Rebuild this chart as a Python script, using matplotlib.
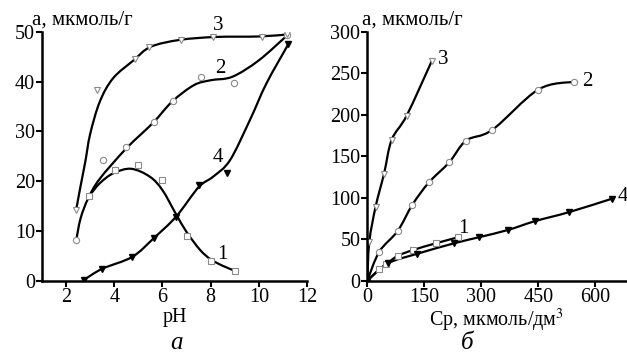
import matplotlib
matplotlib.use("Agg")
import matplotlib.pyplot as plt
import numpy as np
from matplotlib.path import Path
from matplotlib.patches import PathPatch

plt.rcParams["font.family"] = ["Liberation Serif", "DejaVu Serif"]
plt.rcParams["mathtext.fontset"] = "stix"

# --- panel а: a vs pH ---
# markers (measured points)
ph1 = [2.97, 4.01, 5.0, 6.0, 7.0, 8.0, 9.0]
a1 = [17.1, 22.2, 23.2, 20.2, 9.0, 4.0, 2.0]
ph2 = [2.42, 3.55, 4.5, 5.65, 6.45, 7.6, 8.96, 11.17]
a2 = [8.1, 24.2, 26.8, 32.0, 36.1, 41.0, 39.8, 49.3]
ph3 = [2.42, 3.28, 4.85, 5.43, 6.76, 8.11, 10.15, 11.17]
a3 = [14.3, 38.4, 44.5, 47.0, 48.3, 49.0, 49.0, 49.5]
ph4 = [2.75, 3.51, 4.75, 5.65, 6.57, 7.53, 8.69, 11.22]
a4 = [0.2, 2.4, 4.7, 8.6, 12.9, 19.3, 21.6, 47.5]

# fitted curves
ph1_fit = [2.97, 3.4, 3.96, 4.7, 5.48, 6.0, 6.55, 7.0, 7.56, 8.0, 8.5, 9.0]
a1_fit = [17.1, 19.6, 21.6, 22.5, 20.9, 18.2, 13.5, 9.8, 6.2, 4.3, 3.0, 2.0]
ph2_fit = [2.42, 2.6, 2.92, 3.4, 4.5, 5.6, 6.4, 7.3, 8.0, 8.9, 10.0, 11.17]
a2_fit = [8.1, 12.5, 16.6, 20.5, 26.6, 31.7, 36.0, 39.3, 40.3, 41.0, 44.3, 49.3]
ph3_fit = [2.42, 2.6, 2.8, 3.0, 3.4, 3.95, 4.8, 5.5, 6.7, 8.2, 10.0, 11.17]
a3_fit = [14.3, 19.0, 24.0, 29.5, 36.0, 40.7, 44.3, 47.0, 48.4, 49.0, 49.1, 49.5]
ph4_fit = [2.75, 3.5, 4.75, 5.65, 6.57, 7.5, 8.1, 8.8, 9.63, 10.32, 11.22]
a4_fit = [0.2, 2.4, 4.8, 8.6, 12.9, 18.8, 20.9, 24.2, 32.3, 39.7, 47.5]

# --- panel б: isotherms ---
c1 = [0, 31.6, 49, 80, 121, 181, 239.6]
q1 = [0, 13.8, 19.8, 29.9, 37.1, 45.2, 52.5]
c2 = [0, 31.6, 80, 118.5, 162, 216, 260, 329, 450, 544]
q2 = [0, 35, 60, 91.5, 118.5, 143, 169, 182, 230.6, 240]
c3 = [0, 5.3, 22, 44, 64.2, 103.7, 169.5]
q3 = [0, 47, 89.5, 129, 170, 199.2, 264.8]
c4 = [0, 55, 130, 229, 294.7, 371, 441, 531, 643]
q4 = [0, 21, 32.3, 45.2, 52.5, 61.3, 71.8, 82.7, 98.8]


def smooth_line(ax, xs, ys):
    # Catmull-Rom through the points, drawn as cubic bezier in display space
    pts = ax.transData.transform(np.column_stack([xs, ys]))
    verts = [pts[0]]
    codes = [Path.MOVETO]
    n = len(pts)
    for i in range(n - 1):
        p0 = pts[i - 1] if i > 0 else pts[i]
        p1, p2 = pts[i], pts[i + 1]
        p3 = pts[i + 2] if i + 2 < n else pts[i + 1]
        verts += [p1 + (p2 - p0) / 6, p2 - (p3 - p1) / 6, p2]
        codes += [Path.CURVE4] * 3
    verts = ax.transData.inverted().transform(np.array(verts))
    ax.add_patch(PathPatch(Path(verts, codes), fc="none", ec="black", lw=1.6, zorder=2))


fig = plt.figure(figsize=(6.27, 3.54), dpi=100)
W, H = 627, 354
ax1 = fig.add_axes([42 / W, 1 - 280.7 / H, 265 / W, 248.7 / H])
ax2 = fig.add_axes([367.3 / W, 1 - 280.7 / H, 258.4 / W, 248.7 / H])

ax1.set_xlim(1, 12)
ax1.set_ylim(0, 50)
ax1.set_xticks([2, 4, 6, 8, 10, 12])
ax1.set_yticks([0, 10, 20, 30, 40, 50])
ax2.set_xlim(0, 680)
ax2.set_ylim(0, 300)
ax2.set_xticks([0, 150, 300, 450, 600])
ax2.set_yticks([0, 50, 100, 150, 200, 250, 300])

gray = "#8a8a8a"
open_kw = dict(ls="none", mfc="white", mec=gray, mew=0.8, ms=4.5, zorder=3)

smooth_line(ax1, ph1_fit, a1_fit)
smooth_line(ax1, ph2_fit, a2_fit)
smooth_line(ax1, ph3_fit, a3_fit)
smooth_line(ax1, ph4_fit, a4_fit)
ax1.plot(ph1, a1, marker="s", **open_kw)
ax1.plot(ph2, a2, marker="o", **open_kw)
ax1.plot(ph3, a3, marker="v", **open_kw)
ax1.plot(ph4, a4, marker="v", ls="none", color="black", ms=5, zorder=3)

smooth_line(ax2, c1, q1)
smooth_line(ax2, c2, q2)
smooth_line(ax2, c3, q3)
smooth_line(ax2, c4, q4)
ax2.plot(c1, q1, marker="s", **open_kw)
ax2.plot(c2, q2, marker="o", **open_kw)
ax2.plot(c3, q3, marker="v", **open_kw)
ax2.plot(c4, q4, marker="v", ls="none", color="black", ms=5, zorder=3)

for ax in (ax1, ax2):
    for s in ("top", "right"):
        ax.spines[s].set_visible(False)
    for s in ("left", "bottom"):
        ax.spines[s].set_linewidth(1.8)
        ax.spines[s].set_zorder(4)
    ax.tick_params(direction="out", length=4, width=1.5, labelsize=14.5, pad=1)

ax1.set_xlabel("pH", fontsize=14.5, labelpad=1)
ax2.set_xlabel("Cр, мкмоль/дм$^3$", fontsize=14.5, labelpad=0)

fig.text(32 / W, 1 - 25 / H, "а, мкмоль/г", fontsize=15, va="baseline")
fig.text(362 / W, 1 - 25 / H, "а, мкмоль/г", fontsize=15, va="baseline")

# curve numbers
ax1.text(8.3, 51.4, "3", fontsize=15, ha="center", va="center")
ax1.text(8.39, 42.7, "2", fontsize=15, ha="center", va="center")
ax1.text(8.5, 5.2, "1", fontsize=15, ha="center", va="center")
ax1.text(8.3, 24.7, "4", fontsize=15, ha="center", va="center")
ax2.text(200, 267, "3", fontsize=15, ha="center", va="center")
ax2.text(578, 240, "2", fontsize=15, ha="center", va="center")
ax2.text(254, 63, "1", fontsize=15, ha="center", va="center")
ax2.text(672, 101, "4", fontsize=15, ha="center", va="center", clip_on=False)

fig.text(177 / W, 1 - 343 / H, "а", fontsize=18, style="italic", ha="center", va="center")
fig.text(467 / W, 1 - 343 / H, "б", fontsize=18, style="italic", ha="center", va="center")

fig.savefig("out.png", dpi=100)
